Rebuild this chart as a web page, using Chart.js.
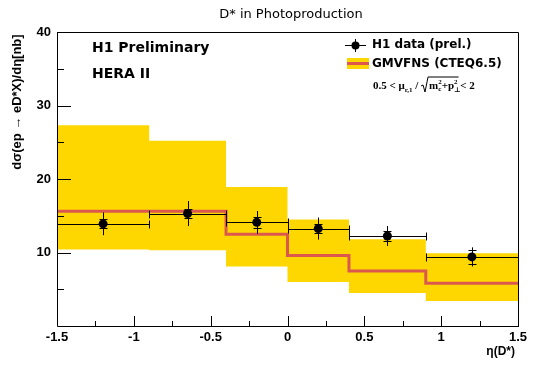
<!DOCTYPE html>
<html>
<head>
<meta charset="utf-8">
<script src="https://cdn.jsdelivr.net/npm/chart.js@4.4.1/dist/chart.umd.min.js"></script>
<style>
  html, body { margin: 0; padding: 0; background: #fff; }
  #wrap { width: 536px; height: 370px; }
</style>
</head>
<body>
<div id="wrap"><canvas id="chart" width="536" height="370"></canvas></div>
<script>
// bin edges in eta(D*)
const binEdges = [-1.5, -0.9, -0.4, 0, 0.4, 0.9, 1.5];
// GMVFNS prediction (central, upper, lower) per bin
const theoryCentral = [15.6, 15.6, 12.5, 9.6, 7.5, 5.8];
const theoryUpper = [27.3, 25.2, 18.9, 14.5, 11.8, 9.9];
const theoryLower = [10.4, 10.3, 8.1, 6.0, 4.5, 3.4];
// H1 data
const dataEta = [-1.2, -0.65, -0.2, 0.2, 0.65, 1.2];
const dataValues = [13.9, 15.3, 14.1, 13.25, 12.25, 9.4];
const dataStatErr = [0.6, 0.6, 0.7, 0.6, 0.65, 1.0];
const dataTotErr = [1.55, 1.7, 1.55, 1.5, 1.35, 1.3];
const xTicks = [-1.5, -1, -0.5, 0, 0.5, 1, 1.5];
const yTicks = [10, 20, 30, 40];

const FONT = '"Liberation Sans", Arial, Helvetica, sans-serif';
const WIDE = '"DejaVu Sans", Verdana, sans-serif';
const YELLOW = 'rgb(255,215,0)';
const RED = 'rgb(220,88,78)';

function stepPoints(values) {
  const pts = values.map((v, i) => ({ x: binEdges[i], y: v }));
  pts.push({ x: binEdges[binEdges.length - 1], y: values[values.length - 1] });
  return pts;
}

const framePlugin = {
  id: 'frame',
  beforeDatasetsDraw(chart) {
    const { ctx, chartArea: a } = chart;
    ctx.save();
    ctx.strokeStyle = '#000';
    ctx.lineWidth = 1;
    ctx.beginPath();
    ctx.moveTo(a.left, a.top + 0.5);
    ctx.lineTo(a.right + 0.5, a.top + 0.5);
    ctx.lineTo(a.right + 0.5, a.bottom);
    ctx.stroke();
    ctx.restore();
  },
  afterDatasetsDraw(chart) {
    const { ctx, chartArea: a, scales } = chart;
    const xs = scales.x, ys = scales.y;
    ctx.save();
    ctx.strokeStyle = '#000';
    ctx.lineWidth = 1;
    ctx.beginPath();
    ctx.moveTo(a.left + 0.5, a.top);
    ctx.lineTo(a.left + 0.5, a.bottom + 0.5);
    ctx.lineTo(a.right + 1, a.bottom + 0.5);
    // y ticks, inside
    for (let v = 5; v < 40; v += 5) {
      const py = Math.round(ys.getPixelForValue(v)) + 0.5;
      const len = v % 10 === 0 ? 14 : 7;
      ctx.moveTo(a.left, py);
      ctx.lineTo(a.left + len, py);
    }
    // x ticks, inside
    for (let k = 0; k <= 12; k++) {
      const v = -1.5 + k * 0.25;
      const px = Math.round(xs.getPixelForValue(v)) + 0.5;
      const len = k % 2 === 0 ? 10 : 5;
      ctx.moveTo(px, a.bottom);
      ctx.lineTo(px, a.bottom - len);
    }
    ctx.stroke();

    // error bars for the data
    ctx.beginPath();
    dataEta.forEach((eta, i) => {
      const px = Math.round(xs.getPixelForValue(eta)) + 0.5;
      const py = Math.round(ys.getPixelForValue(dataValues[i])) + 0.5;
      const x0 = Math.round(xs.getPixelForValue(binEdges[i])) + 0.5;
      const x1 = Math.round(xs.getPixelForValue(binEdges[i + 1])) + 0.5;
      ctx.moveTo(x0, py); ctx.lineTo(x1, py);
      ctx.moveTo(x0, py - 4); ctx.lineTo(x0, py + 4);
      ctx.moveTo(x1, py - 4); ctx.lineTo(x1, py + 4);
      const yt = ys.getPixelForValue(dataValues[i] + dataTotErr[i]);
      const yb = ys.getPixelForValue(dataValues[i] - dataTotErr[i]);
      ctx.moveTo(px, yt); ctx.lineTo(px, yb);
      const st = Math.round(ys.getPixelForValue(dataValues[i] + dataStatErr[i])) + 0.5;
      const sb = Math.round(ys.getPixelForValue(dataValues[i] - dataStatErr[i])) + 0.5;
      ctx.moveTo(px - 4, st); ctx.lineTo(px + 4, st);
      ctx.moveTo(px - 4, sb); ctx.lineTo(px + 4, sb);
    });
    ctx.stroke();
    ctx.restore();
  }
};

const textPlugin = {
  id: 'texts',
  afterDraw(chart) {
    const { ctx } = chart;
    ctx.save();
    ctx.fillStyle = '#000';
    ctx.textBaseline = 'middle';

    // title
    ctx.textAlign = 'center';
    ctx.font = '13px ' + WIDE;
    ctx.fillText('D* in Photoproduction', 291, 15);

    // H1 labels
    ctx.textAlign = 'left';
    ctx.font = 'bold 14px ' + WIDE;
    ctx.fillText('H1 Preliminary', 92, 48);
    ctx.fillText('HERA II', 92, 74);

    // x axis title
    ctx.textAlign = 'right';
    ctx.font = 'bold 12px ' + FONT;
    ctx.fillText('\u03b7(D*)', 515, 352);

    // y axis title
    ctx.save();
    ctx.translate(17, 102);
    ctx.rotate(-Math.PI / 2);
    ctx.textAlign = 'center';
    ctx.font = 'bold 13px ' + FONT;
    ctx.fillText('d\u03c3(ep \u2192 eD*X)/d\u03b7[nb]', 0, 0);
    ctx.restore();

    // legend
    ctx.strokeStyle = '#000';
    ctx.lineWidth = 1;
    ctx.beginPath();
    ctx.moveTo(345, 45.5); ctx.lineTo(366, 45.5);
    ctx.moveTo(355.5, 39); ctx.lineTo(355.5, 52);
    ctx.stroke();
    ctx.beginPath();
    ctx.arc(355.5, 45.5, 4, 0, Math.PI * 2);
    ctx.fill();
    ctx.fillStyle = YELLOW;
    ctx.fillRect(347, 58, 22, 11);
    ctx.fillStyle = RED;
    ctx.fillRect(347, 62, 22, 3);
    ctx.fillStyle = '#000';
    ctx.textAlign = 'left';
    ctx.font = 'bold 12px ' + WIDE;
    ctx.fillText('H1 data (prel.)', 372, 45);
    ctx.fillText('GMVFNS (CTEQ6.5)', 372, 64);

    // scale range formula
    const serif = '"Liberation Serif", "DejaVu Serif", serif';
    const big = 'bold 11px ' + serif;
    const small = 'bold 7px ' + serif;
    let x = 373;
    const y = 86;
    function put(t, f, dy) {
      ctx.font = f;
      ctx.fillText(t, x, y + (dy || 0));
      x += ctx.measureText(t).width;
    }
    put('0.5 < \u03bc', big);
    put('r,1', small, 4);
    put(' / ', big);
    // sqrt sign
    ctx.beginPath();
    ctx.moveTo(x, y);
    ctx.lineTo(x + 2, y - 1);
    ctx.lineTo(x + 4, y + 6);
    ctx.lineTo(x + 7, y - 9);
    x += 8;
    put('m', big);
    const cx = x;
    put('c', small, 3);
    x = cx;
    put('2', small, -4);
    put('+p', big);
    const px2 = x;
    put('\u22a5', small, 4);
    x = px2;
    put('2', small, -4);
    ctx.lineTo(x + 1, y - 9);
    ctx.stroke();
    put(' < 2', big);
    ctx.restore();
  }
};

new Chart(document.getElementById('chart'), {
  type: 'line',
  data: {
    datasets: [
      {
        data: stepPoints(theoryUpper),
        stepped: true,
        borderWidth: 0,
        borderColor: YELLOW,
        backgroundColor: YELLOW,
        pointRadius: 0,
        fill: '+1',
        order: 3
      },
      {
        data: stepPoints(theoryLower),
        stepped: true,
        borderWidth: 0,
        borderColor: YELLOW,
        pointRadius: 0,
        fill: false,
        order: 4
      },
      {
        data: stepPoints(theoryCentral),
        stepped: true,
        borderWidth: 3,
        borderColor: RED,
        pointRadius: 0,
        fill: false,
        order: 2
      },
      {
        data: dataEta.map((x, i) => ({ x: x, y: dataValues[i] })),
        showLine: false,
        pointRadius: 4.5,
        pointBackgroundColor: '#000',
        pointBorderWidth: 0,
        order: 1
      }
    ]
  },
  options: {
    responsive: false,
    animation: false,
    layout: { padding: { top: 32, right: 18, left: 0, bottom: 0 } },
    plugins: { legend: { display: false }, tooltip: { enabled: false }, title: { display: false } },
    scales: {
      x: {
        type: 'linear',
        min: -1.5,
        max: 1.5,
        afterFit: s => { s.height = 44; },
        afterBuildTicks: s => { s.ticks = xTicks.map(v => ({ value: v })); },
        grid: { display: false, drawTicks: false },
        border: { display: false },
        ticks: {
          padding: 4,
          color: '#000',
          font: { family: FONT, size: 13, weight: 'bold' },
          maxRotation: 0,
          callback: v => String(+v.toFixed(2))
        }
      },
      y: {
        type: 'linear',
        min: 0,
        max: 40,
        afterFit: s => { s.width = 57; },
        afterBuildTicks: s => { s.ticks = yTicks.map(v => ({ value: v })); },
        grid: { display: false, drawTicks: false },
        border: { display: false },
        ticks: {
          padding: 6,
          color: '#000',
          font: { family: FONT, size: 13, weight: 'bold' }
        }
      }
    }
  },
  plugins: [framePlugin, textPlugin]
});
</script>
</body>
</html>
